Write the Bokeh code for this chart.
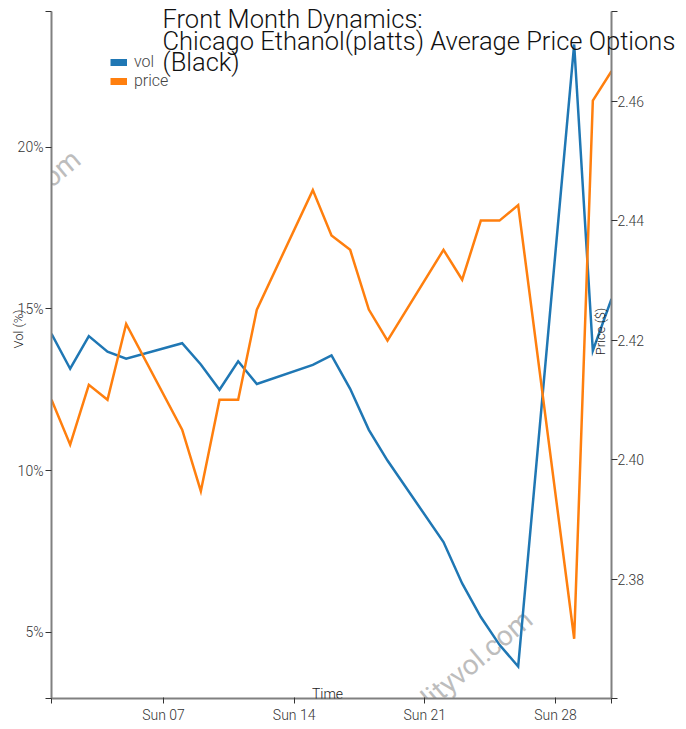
import math
import calendar
from datetime import datetime

from bokeh.plotting import figure
from bokeh.models import (Range1d, LinearAxis, FixedTicker, DatetimeTickFormatter,
                          PrintfTickFormatter, Label, Legend, LegendItem, ColumnDataSource, Title)
from bokeh.embed import file_html
from bokeh.resources import INLINE

# ---------------- data ----------------
year, month = 2024, 1
days = [1, 2, 3, 4, 5, 8, 9, 10, 11, 12, 15, 16, 17, 18, 19, 22, 23, 24, 25, 26, 29, 30, 31]
vol = [14.23, 13.15, 14.16, 13.68, 13.46, 13.94, 13.28, 12.50, 13.38, 12.68, 13.27, 13.56,
       12.53, 11.26, 10.31, 7.79, 6.51, 5.47, 4.61, 3.94, 23.18, 13.71, 15.31]
price = [2.410, 2.4025, 2.4125, 2.410, 2.4227, 2.405, 2.3947, 2.410, 2.410, 2.4251, 2.4451,
         2.4375, 2.4351, 2.4251, 2.4199, 2.4351, 2.4301, 2.440, 2.440, 2.4426, 2.370, 2.4601, 2.465]
vol_ticks = [5, 10, 15, 20]
price_ticks = [2.38, 2.40, 2.42, 2.44, 2.46]
week_tick_days = [7, 14, 21, 28]
vol_range = (2.95, 24.2)
price_range = (2.36, 2.475)

title_lines = ["Front Month Dynamics:", "Chicago Ethanol(platts) Average Price Options", "(Black)"]
watermark = "commodityvol.com"

FONT = "Roboto"
LIGHT = "Roboto Light"

dates = [datetime(year, month, d) for d in days]


def ms(d):
    return calendar.timegm(datetime(year, month, d).timetuple()) * 1000.0


src = ColumnDataSource(dict(date=dates, vol=vol, price=price))

p = figure(width=680, height=726, x_axis_type="datetime",
           x_range=Range1d(dates[0], dates[-1]),
           y_range=Range1d(*vol_range),
           output_backend="svg", toolbar_location=None,
           min_border_left=51, min_border_right=69, min_border_top=11, min_border_bottom=28)
p.outline_line_color = None
p.xgrid.visible = False
p.ygrid.visible = False
p.background_fill_color = "white"
p.border_fill_color = "white"
p.extra_y_ranges = {"price": Range1d(*price_range)}

AX_COLOR = "#808080"
TICK_COLOR = "#333333"
LBL_COLOR = "#333333"


def style_axis(ax, tick_out, tick_in, standoff):
    ax.axis_line_color = AX_COLOR
    ax.axis_line_width = 2
    ax.major_tick_line_color = TICK_COLOR
    ax.major_tick_line_width = 1
    ax.major_tick_out = tick_out
    ax.major_tick_in = tick_in
    ax.minor_tick_line_color = None
    ax.major_label_standoff = standoff
    ax.major_label_text_font = LIGHT
    ax.major_label_text_font_size = "14px"
    ax.major_label_text_color = LBL_COLOR


# bottom (time) axis
xa = p.xaxis[0]
x_tick_vals = [ms(days[0])] + [ms(d) for d in week_tick_days] + [ms(days[-1])]
xa.ticker = FixedTicker(ticks=x_tick_vals)
fmt = "%a %d"
xa.formatter = DatetimeTickFormatter(days=fmt, months=fmt, years=fmt, hours=fmt,
                                     hourmin=fmt, minutes=fmt, minsec=fmt, seconds=fmt,
                                     milliseconds=fmt, microseconds=fmt)
xa.major_label_overrides = {ms(days[0]): "", ms(days[-1]): ""}
style_axis(xa, 5, 1, 3)

# left (vol) axis
ya = p.yaxis[0]
ya.ticker = FixedTicker(ticks=[vol_range[0]] + vol_ticks + [vol_range[1]])
ya.formatter = PrintfTickFormatter(format="%d%%")
ya.major_label_overrides = {vol_range[0]: "", vol_range[1]: ""}
style_axis(ya, 6, 0, 2)

# right (price) axis
ra = LinearAxis(y_range_name="price",
                ticker=FixedTicker(ticks=[price_range[0]] + price_ticks + [price_range[1]]),
                formatter=PrintfTickFormatter(format="%.2f"))
ra.major_label_overrides = {price_range[0]: "", price_range[1]: ""}
style_axis(ra, 6, 0, 0)
p.add_layout(ra, "right")

# watermarks (beneath the lines)
for wx, wy in [(25, 543), (477, 83)]:
    p.add_layout(Label(x=wx, y=wy, x_units="screen", y_units="screen", text=watermark,
                       angle=math.radians(40), text_align="right", text_baseline="alphabetic",
                       text_font=FONT, text_font_size="28px", text_color="#bdbdbd",
                       level="underlay"))

# data lines
p.line("date", "vol", source=src, line_color="#1f77b4", line_width=2.5, line_join="miter")
p.line("date", "price", source=src, y_range_name="price", line_color="#ff7f0e",
       line_width=2.5, line_join="miter")

# legend (swatches via thick lines with no visible points)
nan = float("nan")
lv = p.line(x=[dates[0]], y=[nan], line_color="#1f77b4", line_width=7)
lp = p.line(x=[dates[0]], y=[nan], line_color="#ff7f0e", line_width=7)
leg = Legend(items=[LegendItem(label="vol", renderers=[lv]),
                    LegendItem(label="price", renderers=[lp])],
             location=(59, 608), orientation="vertical", padding=0, spacing=-2, margin=0,
             glyph_width=17, glyph_height=16, label_height=16, label_standoff=7,
             label_text_font=LIGHT, label_text_font_size="16px", label_text_color="#444444",
             border_line_color=None, background_fill_alpha=0)
p.add_layout(leg)

# chart title: a side-panel title (not clipped by the frame), pulled down over the frame
p.add_layout(Title(text="\n".join(title_lines), align="left", offset=111, standoff=-132,
                   text_font=LIGHT, text_font_size="25.5px", text_font_style="normal",
                   text_color="#111111", text_line_height=0.73), "above")

# y axis title on the left, as a side-panel title
p.add_layout(Title(text="Vol (%)", align="left", offset=350, standoff=-22,
                   text_font=LIGHT, text_font_size="13px", text_font_style="normal",
                   text_color="#222222"), "left")

# axis titles inside the frame
p.add_layout(Label(x=276, y=5, x_units="screen", y_units="screen", text="Time",
                   text_align="center", text_baseline="alphabetic",
                   text_font=LIGHT, text_font_size="14px", text_color="#222222"))
p.add_layout(Label(x=549, y=367, x_units="screen", y_units="screen", text="Price ($)",
                   angle=math.pi / 2, text_align="center", text_baseline="middle",
                   text_font=LIGHT, text_font_size="13px", text_color="#222222"))

open("out.html", "w").write(file_html(p, INLINE))
